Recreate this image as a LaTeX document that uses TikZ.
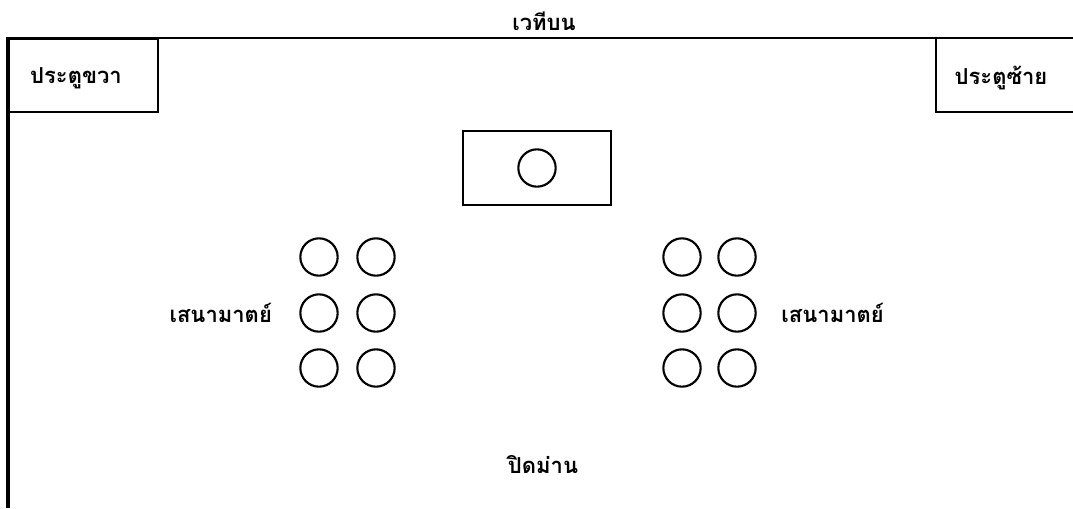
\documentclass[tikz,border=0pt]{standalone}
\usepackage{fontspec}
\usetikzlibrary{positioning}
\newfontfamily\thaifont[Script=Thai]{Loma}
\tikzset{
    seat/.style={draw, circle, line width=1.6pt, minimum size=28pt, inner sep=0pt},
    doorbox/.style={draw, line width=1.6pt, minimum width=112pt, minimum height=55pt, inner sep=0pt},
    stagetext/.style={font=\thaifont\bfseries\fontsize{16.5}{18}\selectfont}
}

\begin{document}
\begin{tikzpicture}[x=0.75pt, y=-0.75pt]
\useasboundingbox (0,0) rectangle (1073,508);

% outline of the stage
\draw[line width=1.6pt] (6,38) -- (1073,38);
\draw[line width=2.4pt] (8,38) -- (8,508);
\node[stagetext, anchor=base] (upper) at (544,30) {เวทีบน};

% doors
\node[doorbox, anchor=north west] (rightdoor) at (8,38) {};
\node[stagetext] (rightdoortext) at (76,78) {ประตูขวา};
\coordinate (leftdoorcorner) at (936,38);
\draw[line width=1.6pt] (leftdoorcorner) |- (1073,112);
\node[stagetext] (leftdoortext) at (1001,78) {ประตูซ้าย};

% throne
\node[draw, line width=1.7pt, minimum width=111pt, minimum height=56pt, inner sep=0pt] (throne) at (537,168) {};
\node[seat] (king) at (throne.center) {};

% officials
\foreach \row/\y in {1/257, 2/313, 3/368} {
    \foreach \col/\x in {1/319, 2/376} {
        \node[seat] (left\row\col) at (\x,\y) {};
    }
    \foreach \col/\x in {1/682, 2/737} {
        \node[seat] (right\row\col) at (\x,\y) {};
    }
}
\node[stagetext, left=17pt of left21] (leftnobles) {เสนามาตย์};
\node[stagetext, right=15pt of right22] (rightnobles) {เสนามาตย์};

\node[stagetext] (curtain) at (543,465) {ปิดม่าน};
\end{tikzpicture}
\end{document}
